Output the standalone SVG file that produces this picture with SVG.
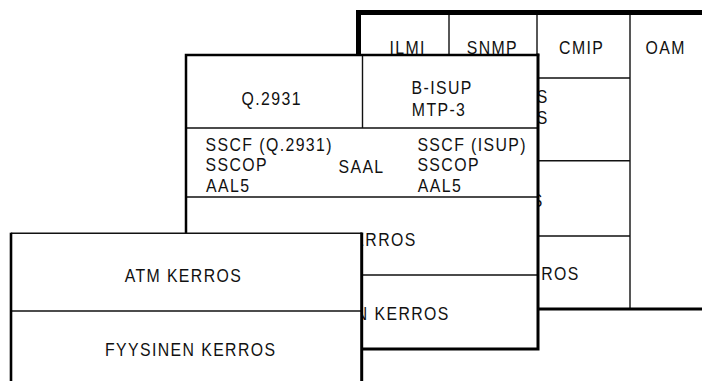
<svg xmlns="http://www.w3.org/2000/svg" width="702" height="381" viewBox="0 0 702 381">
  <style>
    .t { font-family: "Liberation Sans", Arial, Helvetica, sans-serif; font-size: 18px; fill: #111; letter-spacing: 1.6px; }
    .m { text-anchor: middle; }
    .e { text-anchor: end; }
    .thin { stroke: #111; stroke-width: 1.4; fill: none; }
    .thick { stroke: #000; fill: none; stroke-linecap: square; }
    .bg { fill: #fff; stroke: none; }
  </style>
  <rect x="0" y="0" width="702" height="381" fill="#fff"/>

  <g id="back-panel">
    <rect class="bg" x="358" y="12" width="350" height="297"/>
    <text class="t m" transform="translate(407.7 54) scale(0.88 1)">ILMI</text>
    <text class="t m" transform="translate(492.4 54) scale(0.88 1)">SNMP</text>
    <text class="t m" transform="translate(581.7 54) scale(0.88 1)">CMIP</text>
    <text class="t m" transform="translate(665.7 54) scale(0.88 1)">OAM</text>
    <text class="t e" transform="translate(548.8 103.3) scale(0.88 1)">S</text>
    <text class="t e" transform="translate(548.8 124) scale(0.88 1)">S</text>
    <text class="t e" transform="translate(543.8 206.5) scale(0.88 1)">S</text>
    <text class="t e" transform="translate(579.8 280) scale(0.88 1)">ROS</text>
    <path class="thin" d="M449 15 V308 M537 15 V308 M630 15 V308 M537 78 H630 M537 160.7 H630 M537 236 H630"/>
    <path class="thick" stroke-width="5" d="M358.5 308 V12.5 H710"/>
    <path class="thick" stroke-width="3" d="M358.5 309 H710"/>
  </g>

  <g id="mid-panel">
    <rect class="bg" x="186" y="55" width="352" height="294"/>
    <path class="thin" d="M362.5 55 V128 M186 128 H538 M186 197 H538 M186 275 H538"/>
    <text class="t m" transform="translate(271.7 104.5) scale(0.88 1)">Q.2931</text>
    <text class="t" transform="translate(411.5 94) scale(0.88 1)">B-ISUP</text>
    <text class="t" transform="translate(411.8 115.7) scale(0.88 1)">MTP-3</text>
    <text class="t" transform="translate(205.6 150.8) scale(0.88 1)">SSCF (Q.2931)</text>
    <text class="t" transform="translate(205.6 171.2) scale(0.88 1)">SSCOP</text>
    <text class="t" transform="translate(206 191.8) scale(0.88 1)">AAL5</text>
    <text class="t m" transform="translate(361.5 173.3) scale(0.88 1)">SAAL</text>
    <text class="t" transform="translate(417.4 150.8) scale(0.88 1)">SSCF (ISUP)</text>
    <text class="t" transform="translate(417.4 171.2) scale(0.88 1)">SSCOP</text>
    <text class="t" transform="translate(417.8 191.8) scale(0.88 1)">AAL5</text>
    <text class="t m" transform="translate(357.9 246) scale(0.88 1)">ATM KERROS</text>
    <text class="t m" transform="translate(364 320) scale(0.88 1)">FYYSINEN KERROS</text>
    <path class="thick" stroke-width="2.5" d="M186 349 V55 H538"/>
    <path class="thick" stroke-width="3" d="M538 55 V349 H186"/>
  </g>

  <g id="front-panel">
    <rect class="bg" x="11" y="233.3" width="351" height="150"/>
    <path class="thin" d="M11 311 H362"/>
    <text class="t m" transform="translate(183.4 282) scale(0.88 1)">ATM KERROS</text>
    <text class="t m" transform="translate(190.7 355.7) scale(0.88 1)">FYYSINEN KERROS</text>
    <path class="thin" stroke-width="1.6" d="M11 233.3 H362"/>
    <path class="thick" stroke-width="2.6" d="M11 234 V390"/>
    <path class="thick" stroke-width="3" d="M361.7 234 V390"/>
  </g>
</svg>
